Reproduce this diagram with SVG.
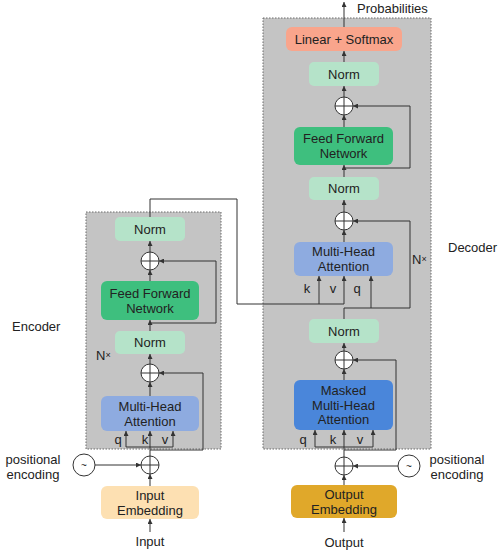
<svg xmlns="http://www.w3.org/2000/svg" width="498" height="550" viewBox="0 0 498 550">
<style>
text{font-family:"Liberation Sans","Noto Sans","DejaVu Sans",sans-serif;font-size:13px;fill:#222;text-anchor:middle;dominant-baseline:central}
.box{fill:#c4c4c4;stroke:#6a6a6a;stroke-width:1;stroke-dasharray:1.5 1.5}
.norm{fill:#b5e3c9}
.ffn{fill:#3ebf7e}
.mha{fill:#8eabe0}
.mmha{fill:#4a86da}
.lin{fill:#f9a58c}
.iemb{fill:#fde0b2}
.oemb{fill:#e0a82a}
.add{fill:#fff;stroke:#333;stroke-width:1}
.ln{fill:none;stroke:#333;stroke-width:1}
.lab{text-anchor:start}
.sm{font-size:9px}
</style>
<defs>
<marker id="ar" viewBox="0 0 6 6" refX="6" refY="3" markerWidth="5" markerHeight="5" markerUnits="userSpaceOnUse" orient="auto">
<path d="M0,0 L6,3 L0,6 Z" fill="#333"/>
</marker>
</defs>

<rect class="box" x="86" y="212" width="135" height="237"/>
<rect class="box" x="263" y="18" width="168" height="431"/>

<g id="encoder-label"><text class="lab" x="12" y="326">Encoder</text></g>
<g id="decoder-label"><text class="lab" x="448" y="247">Decoder</text></g>
<g id="enc-nx"><text class="lab" x="96" y="355">N<tspan class="sm">×</tspan></text></g>
<g id="dec-nx"><text class="lab" x="412" y="259">N<tspan class="sm">×</tspan></text></g>

<g id="enc-norm2"><rect class="norm" x="115" y="217" width="70" height="24" rx="5"/><text x="150" y="229">Norm</text></g>
<g id="enc-add2"><circle class="add" cx="150" cy="261" r="9"/><path class="ln" d="M141,261H159M150,252V270"/></g>
<g id="enc-ffn"><rect class="ffn" x="101" y="281" width="98" height="39" rx="6"/><text x="150" y="293">Feed Forward</text><text x="150" y="308">Network</text></g>
<g id="enc-norm1"><rect class="norm" x="115" y="331" width="70" height="23" rx="5"/><text x="150" y="342.5">Norm</text></g>
<g id="enc-add1"><circle class="add" cx="150" cy="373" r="9"/><path class="ln" d="M141,373H159M150,364V382"/></g>
<g id="enc-mha"><rect class="mha" x="101" y="396" width="98" height="35" rx="6"/><text x="150" y="406">Multi-Head</text><text x="150" y="421">Attention</text></g>
<g id="enc-qkv"><text x="118" y="439">q</text><text x="145" y="439">k</text><text x="165" y="439">v</text></g>
<g id="enc-addpos"><circle class="add" cx="150" cy="465" r="9"/><path class="ln" d="M141,465H159M150,456V474"/></g>
<g id="enc-pos"><circle class="add" cx="84" cy="465" r="11"/><text x="84" y="465" style="font-size:10px">~</text></g>
<g id="enc-pos-label"><text x="33" y="459.5">positional</text><text x="33" y="474.5">encoding</text></g>
<g id="input-emb"><rect class="iemb" x="101" y="486" width="98" height="33" rx="6"/><text x="150" y="495">Input</text><text x="150" y="510">Embedding</text></g>
<g id="input-label"><text x="150" y="541">Input</text></g>

<g id="dec-lin"><rect class="lin" x="286" y="27" width="116" height="24" rx="6"/><text x="344" y="39">Linear + Softmax</text></g>
<g id="prob-label"><text class="lab" x="357" y="8">Probabilities</text></g>
<g id="dec-norm3"><rect class="norm" x="309" y="62" width="70" height="24" rx="5"/><text x="344" y="74">Norm</text></g>
<g id="dec-add3"><circle class="add" cx="344" cy="106" r="9"/><path class="ln" d="M335,106H353M344,97V115"/></g>
<g id="dec-ffn"><rect class="ffn" x="294" y="127" width="99" height="38" rx="6"/><text x="343.5" y="138.5">Feed Forward</text><text x="343.5" y="153.5">Network</text></g>
<g id="dec-norm2"><rect class="norm" x="309" y="177" width="70" height="23" rx="5"/><text x="344" y="188.5">Norm</text></g>
<g id="dec-add2"><circle class="add" cx="344" cy="221" r="9"/><path class="ln" d="M335,221H353M344,212V230"/></g>
<g id="dec-mha"><rect class="mha" x="294" y="242" width="99" height="34" rx="6"/><text x="343.5" y="251.5">Multi-Head</text><text x="343.5" y="266.5">Attention</text></g>
<g id="dec-kvq"><text x="307" y="288">k</text><text x="333" y="288">v</text><text x="357" y="288">q</text></g>
<g id="dec-norm1"><rect class="norm" x="309" y="319" width="70" height="24" rx="5"/><text x="344" y="331">Norm</text></g>
<g id="dec-add1"><circle class="add" cx="344" cy="360" r="9"/><path class="ln" d="M335,360H353M344,351V369"/></g>
<g id="dec-mmha"><rect class="mmha" x="294" y="380" width="99" height="50" rx="6"/><text x="343.5" y="390.5">Masked</text><text x="343.5" y="405">Multi-Head</text><text x="343.5" y="419.5">Attention</text></g>
<g id="dec-qkv"><text x="303" y="439">q</text><text x="333" y="439">k</text><text x="360" y="439">v</text></g>
<g id="dec-addpos"><circle class="add" cx="344" cy="466" r="9"/><path class="ln" d="M335,466H353M344,457V475"/></g>
<g id="dec-pos"><circle class="add" cx="409" cy="466" r="11"/><text x="409" y="466" style="font-size:10px">~</text></g>
<g id="dec-pos-label"><text x="457" y="459.5">positional</text><text x="457" y="474.5">encoding</text></g>
<g id="output-emb"><rect class="oemb" x="291" y="485" width="106" height="33" rx="6"/><text x="344" y="494">Output</text><text x="344" y="509">Embedding</text></g>
<g id="output-label"><text x="344" y="542">Output</text></g>

<g id="connectors">
<path class="ln" d="M150,532V519" marker-end="url(#ar)"/>
<path class="ln" d="M150,486V474" marker-end="url(#ar)"/>
<path class="ln" d="M95,465H141" marker-end="url(#ar)"/>
<path class="ln" d="M150,456V431" marker-end="url(#ar)"/>
<path class="ln" d="M126,447H173"/>
<path class="ln" d="M126,447V431" marker-end="url(#ar)"/>
<path class="ln" d="M173,447V431" marker-end="url(#ar)"/>
<path class="ln" d="M150,450H203V373H159" marker-end="url(#ar)"/>
<path class="ln" d="M150,396V382" marker-end="url(#ar)"/>
<path class="ln" d="M150,364V354" marker-end="url(#ar)"/>
<path class="ln" d="M150,331V320" marker-end="url(#ar)"/>
<path class="ln" d="M150,323H216V261H159" marker-end="url(#ar)"/>
<path class="ln" d="M150,281V270" marker-end="url(#ar)"/>
<path class="ln" d="M150,252V241" marker-end="url(#ar)"/>
<path class="ln" d="M150,217V199H237V304H344"/>
<path class="ln" d="M319,304V276" marker-end="url(#ar)"/>
<path class="ln" d="M344,304V276" marker-end="url(#ar)"/>

<path class="ln" d="M344,532V518" marker-end="url(#ar)"/>
<path class="ln" d="M344,485V475" marker-end="url(#ar)"/>
<path class="ln" d="M398,466H353" marker-end="url(#ar)"/>
<path class="ln" d="M344,457V430" marker-end="url(#ar)"/>
<path class="ln" d="M315,447H373"/>
<path class="ln" d="M315,447V430" marker-end="url(#ar)"/>
<path class="ln" d="M373,447V430" marker-end="url(#ar)"/>
<path class="ln" d="M344,450H396V360H353" marker-end="url(#ar)"/>
<path class="ln" d="M344,380V369" marker-end="url(#ar)"/>
<path class="ln" d="M344,351V343" marker-end="url(#ar)"/>
<path class="ln" d="M344,319V308H410V221H353" marker-end="url(#ar)"/>
<path class="ln" d="M371,308V276" marker-end="url(#ar)"/>
<path class="ln" d="M344,242V230" marker-end="url(#ar)"/>
<path class="ln" d="M344,212V200" marker-end="url(#ar)"/>
<path class="ln" d="M344,177V165" marker-end="url(#ar)"/>
<path class="ln" d="M344,168H410V106H353" marker-end="url(#ar)"/>
<path class="ln" d="M344,127V115" marker-end="url(#ar)"/>
<path class="ln" d="M344,97V86" marker-end="url(#ar)"/>
<path class="ln" d="M344,62V51" marker-end="url(#ar)"/>
<path class="ln" d="M344,27V2" marker-end="url(#ar)"/>
</g>
</svg>
